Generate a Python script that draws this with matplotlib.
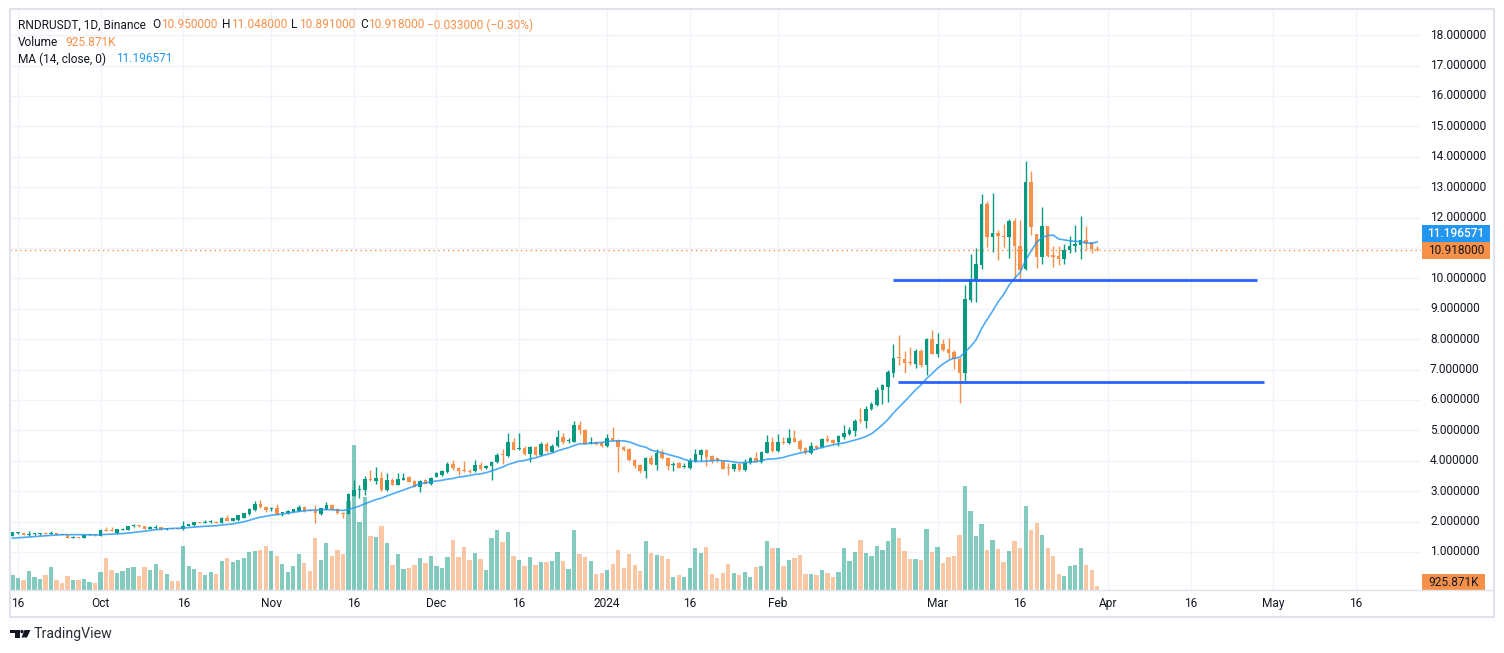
import numpy as np
import pandas as pd
import matplotlib
matplotlib.use("Agg")
import matplotlib.pyplot as plt
from matplotlib.patches import Rectangle, Polygon, Circle
from matplotlib.transforms import IdentityTransform, blended_transform_factory

W, H = 1504, 653
GREEN = '#089981'
ORANGE = '#f7914a'
BLUE = '#2196f3'
TEXT = '#131722'
GRID = '#f0f3fa'

# daily candles RNDRUSDT, 2023-09-15 .. 2024-03-30
start = pd.Timestamp('2023-09-15')
opens = [
    1.53, 1.61, 1.62, 1.56, 1.58, 1.59, 1.62, 1.60, 1.62, 1.57,
    1.55, 1.46, 1.48, 1.46, 1.55, 1.56, 1.53, 1.72, 1.71, 1.63,
    1.73, 1.73, 1.84, 1.87, 1.85, 1.76, 1.80, 1.82, 1.74, 1.77,
    1.76, 1.74, 1.85, 1.87, 1.98, 1.96, 1.97, 1.99, 1.96, 2.11,
    2.03, 2.04, 2.13, 2.25, 2.37, 2.57, 2.48, 2.40, 2.44, 2.27,
    2.27, 2.32, 2.35, 2.48, 2.37, 2.35, 2.25, 2.40, 2.54, 2.41,
    2.28, 2.25, 2.85, 3.03, 3.03, 3.40, 3.33, 3.42, 3.03, 3.36,
    3.21, 3.38, 3.46, 3.34, 3.14, 3.36, 3.23, 3.47, 3.53, 3.63,
    3.90, 3.76, 3.70, 3.67, 3.65, 3.87, 3.75, 3.81, 3.95, 4.21,
    4.15, 4.62, 4.37, 4.43, 4.21, 4.45, 4.18, 4.54, 4.30, 4.47,
    4.78, 4.64, 4.63, 5.19, 5.02, 4.59, 4.63, 4.58, 4.47, 4.76,
    4.68, 4.46, 4.40, 4.03, 3.85, 3.65, 4.09, 3.87, 4.27, 4.09,
    3.85, 3.91, 3.78, 3.75, 3.99, 4.19, 4.35, 4.16, 4.08, 4.00,
    3.77, 3.73, 3.90, 3.69, 3.91, 4.10, 3.97, 4.26, 4.62, 4.32,
    4.62, 4.59, 4.76, 4.64, 4.42, 4.26, 4.49, 4.44, 4.73, 4.68,
    4.62, 4.77, 4.88, 4.99, 5.32, 5.29, 5.70, 5.84, 6.31, 6.44,
    6.89, 7.39, 7.36, 7.24, 7.19, 7.60, 7.14, 7.99, 7.52, 7.83,
    7.66, 7.57, 7.36, 6.89, 9.29, 9.95, 10.44, 12.43, 11.35, 11.49,
    11.40, 11.36, 11.87, 11.07, 10.30, 13.16, 11.47, 10.69, 11.71, 10.77,
    10.72, 10.65, 10.94, 11.05, 11.11, 11.25, 11.21, 10.95,
]
highs = [
    1.66, 1.66, 1.63, 1.69, 1.63, 1.63, 1.65, 1.68, 1.63, 1.58,
    1.56, 1.51, 1.50, 1.57, 1.58, 1.57, 1.75, 1.83, 1.83, 1.76,
    1.78, 1.85, 1.92, 1.88, 1.86, 1.84, 1.90, 1.83, 1.78, 1.78,
    1.78, 2.02, 1.93, 1.99, 1.99, 2.04, 2.04, 2.02, 2.15, 2.22,
    2.12, 2.22, 2.29, 2.44, 2.68, 2.70, 2.50, 2.48, 2.57, 2.32,
    2.37, 2.42, 2.53, 2.50, 2.40, 2.53, 2.46, 2.65, 2.57, 2.43,
    2.30, 2.93, 3.36, 3.20, 3.51, 3.68, 3.80, 3.62, 3.58, 3.42,
    3.59, 3.58, 3.50, 3.36, 3.36, 3.40, 3.48, 3.63, 3.71, 3.96,
    4.02, 3.80, 3.98, 3.72, 4.02, 3.95, 3.87, 3.98, 4.25, 4.38,
    4.92, 4.75, 4.90, 4.47, 4.48, 4.50, 4.60, 4.60, 4.55, 5.02,
    4.90, 4.75, 5.32, 5.32, 5.05, 4.79, 4.65, 4.62, 4.88, 5.10,
    4.72, 4.48, 4.42, 4.05, 3.90, 4.12, 4.20, 4.38, 4.38, 4.12,
    3.95, 3.96, 3.93, 4.09, 4.37, 4.37, 4.37, 4.18, 4.11, 4.03,
    3.91, 3.92, 3.92, 4.04, 4.13, 4.29, 4.33, 4.85, 4.77, 4.87,
    4.79, 5.05, 5.00, 4.70, 4.45, 4.60, 4.52, 4.75, 4.85, 4.72,
    4.85, 5.18, 5.10, 5.38, 5.73, 5.79, 5.92, 6.44, 6.52, 7.00,
    7.85, 8.13, 7.61, 7.74, 7.66, 7.66, 8.05, 8.30, 8.21, 7.99,
    8.05, 7.63, 7.40, 9.78, 10.81, 11.00, 12.76, 12.54, 12.79, 11.60,
    11.80, 11.95, 11.98, 11.93, 13.85, 13.52, 11.47, 12.35, 11.73, 11.07,
    11.07, 11.14, 11.40, 11.76, 12.06, 11.73, 11.21, 11.048,
]
lows = [
    1.52, 1.60, 1.54, 1.53, 1.57, 1.57, 1.59, 1.58, 1.56, 1.55,
    1.45, 1.45, 1.45, 1.45, 1.54, 1.53, 1.52, 1.69, 1.69, 1.60,
    1.72, 1.72, 1.83, 1.83, 1.75, 1.75, 1.75, 1.73, 1.73, 1.74,
    1.74, 1.73, 1.84, 1.86, 1.94, 1.95, 1.96, 1.95, 1.95, 2.01,
    2.01, 2.03, 2.11, 2.23, 2.35, 2.45, 2.32, 2.33, 2.22, 2.17,
    2.25, 2.30, 2.33, 2.31, 2.33, 1.96, 2.23, 2.38, 2.39, 2.25,
    2.10, 2.24, 2.83, 2.78, 2.86, 3.32, 3.25, 3.02, 3.02, 3.19,
    3.19, 3.35, 3.29, 3.12, 2.98, 3.22, 3.20, 3.45, 3.50, 3.60,
    3.69, 3.52, 3.63, 3.60, 3.63, 3.70, 3.72, 3.35, 3.92, 3.90,
    4.13, 4.34, 4.35, 4.19, 3.95, 4.16, 4.16, 4.29, 4.28, 4.45,
    4.55, 4.58, 4.61, 4.87, 4.54, 4.54, 4.52, 4.45, 4.45, 4.65,
    3.62, 4.33, 3.99, 3.75, 3.60, 3.43, 3.86, 3.68, 4.05, 3.70,
    3.67, 3.75, 3.76, 3.72, 3.95, 3.99, 3.84, 3.93, 3.97, 3.72,
    3.53, 3.67, 3.65, 3.67, 3.88, 3.95, 3.94, 4.24, 4.30, 4.30,
    4.55, 4.56, 4.60, 4.33, 4.22, 4.23, 4.40, 4.42, 4.63, 4.55,
    4.47, 4.73, 4.85, 4.82, 5.25, 5.09, 5.67, 5.80, 5.85, 5.92,
    6.75, 7.14, 6.89, 7.14, 7.06, 7.08, 6.81, 7.50, 7.41, 7.60,
    7.36, 7.03, 5.89, 6.62, 9.23, 9.23, 10.30, 11.03, 10.85, 10.59,
    11.03, 10.66, 10.00, 9.97, 10.28, 11.43, 10.33, 10.46, 10.70, 10.37,
    10.44, 10.46, 10.83, 10.85, 10.65, 10.92, 10.83, 10.891,
]
closes = [
    1.64, 1.63, 1.55, 1.58, 1.60, 1.62, 1.60, 1.62, 1.57, 1.56,
    1.46, 1.48, 1.47, 1.56, 1.56, 1.55, 1.72, 1.70, 1.70, 1.75,
    1.75, 1.84, 1.86, 1.85, 1.76, 1.83, 1.82, 1.74, 1.76, 1.76,
    1.75, 1.85, 1.91, 1.98, 1.95, 2.00, 1.99, 1.96, 2.13, 2.02,
    2.10, 2.20, 2.27, 2.42, 2.57, 2.47, 2.37, 2.44, 2.24, 2.29,
    2.35, 2.40, 2.48, 2.33, 2.35, 2.29, 2.44, 2.54, 2.41, 2.27,
    2.25, 2.89, 3.03, 3.08, 3.40, 3.36, 3.44, 3.03, 3.36, 3.21,
    3.40, 3.44, 3.31, 3.14, 3.34, 3.25, 3.44, 3.58, 3.67, 3.90,
    3.75, 3.67, 3.65, 3.64, 3.87, 3.73, 3.84, 3.96, 4.20, 4.18,
    4.62, 4.36, 4.42, 4.21, 4.45, 4.18, 4.55, 4.31, 4.49, 4.78,
    4.60, 4.66, 5.19, 5.00, 4.56, 4.63, 4.54, 4.47, 4.75, 4.67,
    4.45, 4.36, 4.01, 3.84, 3.65, 4.09, 3.88, 4.27, 4.08, 3.84,
    3.90, 3.77, 3.80, 3.99, 4.21, 4.35, 4.12, 4.00, 4.00, 3.74,
    3.75, 3.90, 3.69, 3.94, 4.09, 3.97, 4.29, 4.62, 4.32, 4.62,
    4.58, 4.76, 4.63, 4.38, 4.26, 4.48, 4.42, 4.71, 4.66, 4.58,
    4.81, 4.92, 5.01, 5.31, 5.29, 5.70, 5.88, 6.33, 6.49, 6.92,
    7.39, 7.37, 7.22, 7.22, 7.61, 7.14, 7.99, 7.52, 7.83, 7.63,
    7.55, 7.33, 6.89, 9.31, 9.97, 10.48, 12.43, 11.35, 11.49, 11.38,
    11.35, 11.87, 11.05, 10.28, 13.16, 11.683, 10.69, 11.73, 10.74, 10.69,
    10.65, 10.94, 11.05, 11.14, 11.25, 11.16, 10.951, 10.918,
]
# volume in millions of RNDR
volume_m = [
    3.2, 2.56, 2.14, 4.06, 2.78, 2.35, 3.2, 4.9, 2.14, 1.5,
    3.0, 2.14, 2.14, 2.35, 1.71, 1.5, 3.85, 6.84, 4.27, 3.63,
    4.06, 4.7, 4.9, 3.0, 4.9, 4.27, 5.56, 4.27, 3.42, 1.92,
    1.92, 9.4, 5.13, 4.49, 3.85, 3.2, 3.85, 3.42, 6.2, 6.84,
    5.98, 6.41, 6.84, 8.12, 8.33, 8.55, 9.4, 8.33, 7.26, 5.56,
    3.85, 5.13, 7.69, 5.77, 4.06, 11.1, 6.41, 10.0, 7.26, 8.55,
    7.69, 19.0, 31.0, 14.5, 19.9, 11.5, 11.3, 13.7, 10.0, 5.34,
    7.69, 4.49, 4.7, 5.34, 6.84, 5.77, 7.26, 5.13, 4.7, 7.05,
    10.7, 7.05, 9.19, 6.41, 7.9, 6.62, 4.27, 11.1, 12.8, 10.3,
    12.4, 7.26, 6.41, 5.13, 7.05, 5.34, 5.98, 5.98, 6.2, 8.12,
    6.2, 4.49, 12.8, 7.69, 7.05, 6.2, 3.42, 3.63, 4.27, 5.56,
    8.55, 4.7, 7.69, 5.34, 4.06, 10.5, 7.9, 7.48, 7.26, 6.62,
    2.78, 3.2, 2.78, 4.7, 8.97, 7.9, 9.19, 3.42, 2.56, 3.63,
    5.56, 3.63, 3.2, 3.85, 2.78, 4.91, 5.13, 10.5, 8.97, 8.97,
    5.13, 6.41, 6.84, 7.48, 3.42, 3.42, 3.2, 4.27, 3.63, 2.78,
    3.85, 8.97, 6.2, 8.12, 10.7, 7.9, 7.26, 9.4, 8.55, 10.5,
    13.2, 11.1, 8.33, 6.62, 6.62, 6.41, 13.0, 8.12, 9.19, 5.77,
    7.05, 7.26, 11.75, 22.2, 16.9, 11.5, 14.1, 8.55, 10.7, 8.76,
    5.98, 8.33, 10.5, 8.97, 17.9, 12.8, 14.3, 11.75, 8.97, 7.26,
    3.42, 2.99, 5.13, 5.34, 8.97, 5.34, 4.27, 0.925871,
]
# closes of the 13 days before the window, only to warm up the MA
warmup_closes = [1.42, 1.40, 1.38, 1.41, 1.44, 1.43, 1.40, 1.39, 1.42, 1.45, 1.48, 1.50, 1.55]

# horizontal drawings (start bar, end bar, price)
level_lines = [(159.9, 226.0, 9.95), (160.9, 227.3, 6.60)]

tick_dates = ['2023-09-16', '2023-10-01', '2023-10-16', '2023-11-01', '2023-11-16',
              '2023-12-01', '2023-12-16', '2024-01-01', '2024-01-16', '2024-02-01',
              '2024-03-01', '2024-03-16', '2024-04-01', '2024-04-16', '2024-05-01', '2024-05-16']
tick_labels = ['16', 'Oct', '16', 'Nov', '16', 'Dec', '16', '2024', '16', 'Feb',
               'Mar', '16', 'Apr', '16', 'May', '16']
price_ticks = list(range(1, 19))

plt.rcParams['font.family'] = ['Roboto', 'DejaVu Sans']

o = np.array(opens)
h = np.array(highs)
l = np.array(lows)
c = np.array(closes)
vol = np.array(volume_m)
x = np.arange(len(c))
ma = pd.Series(warmup_closes + closes).rolling(14).mean().to_numpy()[len(warmup_closes):]

up = c >= o
colors = np.where(up, GREEN, ORANGE)

fig = plt.figure(figsize=(W / 100, H / 100), dpi=100)
fig.patch.set_facecolor('white')
ax_rect = [10 / W, (H - 590) / H, 1411 / W, 580 / H]
axv = fig.add_axes(ax_rect)
ax = fig.add_axes(ax_rect, sharex=axv)
ax.patch.set_visible(False)

# pixel mapping: bar i sits at 12.5 + 5.506*i px
ax.set_xlim(-0.453, 255.8)
ax.set_ylim(-0.253, 18.826)
axv.set_ylim(0, 124)

for a in (ax, axv):
    for s in a.spines.values():
        s.set_visible(False)
    a.set_xticks([])
    a.set_yticks([])

# grid lives on the volume axes so it stays behind everything
grid_tr = blended_transform_factory(axv.transAxes, ax.transData)
for p in price_ticks:
    axv.plot([0, 1], [p, p], color=GRID, lw=1, transform=grid_tr, zorder=0)
tick_x = [(pd.Timestamp(d) - start).days for d in tick_dates]
for tx in tick_x:
    axv.axvline(tx, color=GRID, lw=1, zorder=0)

axv.bar(x, vol, width=0.78, color=colors, alpha=0.5, lw=0, zorder=1)

# candles
ax.vlines(x, l, h, colors=colors, lw=1, zorder=3)
body_lo = np.minimum(o, c)
body_h = np.maximum(np.abs(c - o), 0.035)
ax.bar(x, body_h, bottom=body_lo, width=0.64, color=colors, lw=0, zorder=4)

ax.plot(x, ma, color=BLUE, lw=1.2, alpha=0.8, zorder=5)

for x0, x1, p in level_lines:
    ax.plot([x0, x1], [p, p], color='#2962ff', lw=2, zorder=6, solid_capstyle='butt')

ax.axhline(c[-1], color=ORANGE, lw=1, ls=(0, (1, 2.5)), zorder=2)

# price scale
ptr = blended_transform_factory(ax.transAxes, ax.transData)
for p in price_ticks:
    ax.text(1.0064, p, f'{p:.6f}', transform=ptr, ha='left', va='center',
            fontsize=8.6, color=TEXT, clip_on=False)

# time scale
ttr = blended_transform_factory(ax.transData, ax.transAxes)
for tx, lab in zip(tick_x, tick_labels):
    ax.text(tx, -0.024, lab, transform=ttr, ha='center', va='center',
            fontsize=8.6, color=TEXT, clip_on=False)

ident = IdentityTransform()

# last value boxes on the price scale
y_last = ax.transData.transform((0, c[-1]))[1]
bh = 17
fig.add_artist(Rectangle((1422, y_last - bh / 2), 68, bh, transform=ident,
                         facecolor=ORANGE, edgecolor='none'))
fig.text(1456, y_last, f'{c[-1]:.6f}', transform=ident, ha='center', va='center',
         fontsize=8.6, color=TEXT)
fig.add_artist(Rectangle((1422, y_last + bh / 2), 68, bh, transform=ident,
                         facecolor=BLUE, edgecolor='none'))
fig.text(1456, y_last + bh, f'{ma[-1]:.6f}', transform=ident, ha='center', va='center',
         fontsize=8.6, color='white', fontweight='medium')
vy = H - 590
fig.add_artist(Rectangle((1422, vy), 63, 16, transform=ident,
                         facecolor=ORANGE, edgecolor='none'))
fig.text(1453.5, vy + 8, f'{vol[-1] * 1000:.3f}K', transform=ident, ha='center',
         va='center', fontsize=8.6, color=TEXT)

# frame and separators
fig.add_artist(Rectangle((9.5, H - 617), 1484, 608, transform=ident,
                         facecolor='none', edgecolor='#e0e3eb', lw=1.5))
fig.add_artist(plt.Line2D([9.5, 1493.5], [H - 590, H - 590], transform=ident,
                          color='#e0e3eb', lw=1))

# legend lines
def label(xp, yp, s, color=TEXT, **kw):
    fig.text(xp, H - yp, s, transform=ident, ha='left', va='center',
             fontsize=8.6, color=color, **kw)

chg = c[-1] - c[-2]
label(18, 25, 'RNDRUSDT, 1D, Binance')
for xl, xv, letter, val in [(152, 161, 'O', o[-1]), (222, 231, 'H', h[-1]),
                            (291, 299, 'L', l[-1]), (360, 368, 'C', c[-1])]:
    label(xl, 25, letter)
    label(xv, 25, f'{val:.6f}', ORANGE)
label(427, 25, f'\u2212{abs(chg):.6f} (\u2212{abs(chg) / c[-2] * 100:.2f}%)', ORANGE)
label(18, 42, 'Volume')
label(65, 42, f'{vol[-1] * 1000:.3f}K', ORANGE)
label(18, 59, 'MA (14, close, 0)')
label(116, 59, f'{ma[-1]:.6f}', BLUE)

# TradingView mark
dark = '#131722'
fig.add_artist(Polygon([(10, H - 630), (19.5, H - 630), (19.5, H - 637.5), (15, H - 637.5),
                        (15, H - 633), (10, H - 633)], closed=True, transform=ident,
                       facecolor=dark, edgecolor='none'))
fig.add_artist(Circle((22, H - 631.6), 1.7, transform=ident, facecolor=dark, edgecolor='none'))
fig.add_artist(Polygon([(24.5, H - 630), (30.5, H - 630), (27, H - 637.5), (21.5, H - 637.5)],
                       closed=True, transform=ident, facecolor=dark, edgecolor='none'))
fig.text(34, H - 634, 'TradingView', transform=ident, ha='left', va='center',
         fontsize=10.2, color='#2a2e39')

fig.savefig('out.png', dpi=100, facecolor='white')
